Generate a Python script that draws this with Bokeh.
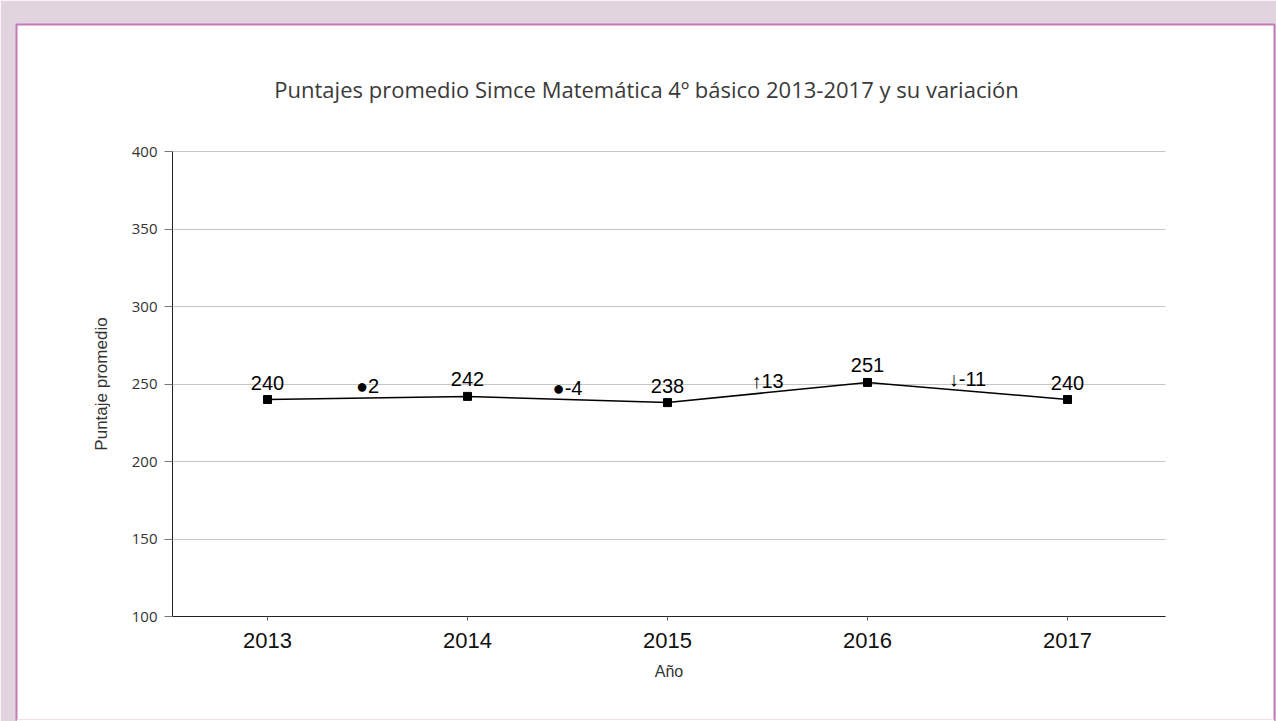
from bokeh.plotting import figure
from bokeh.models import Range1d, FixedTicker, ColumnDataSource, LinearAxis, Grid, Label, Span
from bokeh.core.properties import value
from bokeh.embed import file_html
from bokeh.resources import INLINE

# ---- data ----
years = [2013, 2014, 2015, 2016, 2017]
scores = [240, 242, 238, 251, 240]
variation = [2, -4, 13, -11]
variation_symbols = ["●", "●", "↑", "↓"]
y_ticks = [100, 150, 200, 250, 300, 350, 400]
title_text = "Puntajes promedio Simce Matemática 4º básico 2013-2017 y su variación"
y_label = "Puntaje promedio"
x_label = "Año"

# ---- style / geometry ----
MAUVE = "#e2d4de"
PINK = "#c27bb3"
W, H = 1276, 721
FL, FT, FR, FB = 16, 24, 1274, 721          # white panel (frame) in canvas px
PX_PER_YEAR = 200.0
PX_PER_POINT = 1.55
X_START = 2013 - (267 - FL) / PX_PER_YEAR
X_END = X_START + (FR - FL) / PX_PER_YEAR
Y_END = 400 + (151 - FT) / PX_PER_POINT
Y_START = Y_END - (FB - FT) / PX_PER_POINT
AX_X_LO, AX_X_HI = 2012.525, 2017.49          # extent of the drawn x axis


def px_to_x(px):
    return X_START + (px - FL) / PX_PER_YEAR


def px_to_y(py):
    return Y_END - (py - FT) / PX_PER_POINT


p = figure(width=W, height=H, output_backend="svg", toolbar_location=None,
           x_range=Range1d(X_START, X_END), y_range=Range1d(Y_START, Y_END),
           x_axis_location=None, y_axis_location=None, title=None,
           min_border_left=FL, min_border_right=W - FR, min_border_top=FT,
           min_border_bottom=H - FB)
p.border_fill_color = MAUVE
p.background_fill_color = "white"
p.outline_line_color = PINK
p.outline_line_width = 2
# drop the default grids
p.center = [r for r in p.center if not isinstance(r, Grid)]

# hide the panel's bottom edge (the panel continues below the window)
p.add_layout(Span(location=Y_START, dimension="width", line_color="white", line_width=4))

# grid lines limited to the axis extent
if "cross_bounds" in Grid.properties():
    g = Grid(dimension=1, ticker=FixedTicker(ticks=y_ticks), cross_bounds=(AX_X_LO, AX_X_HI),
             grid_line_color="#c6c6c6", grid_line_width=1)
    p.add_layout(g)
else:
    p.segment(x0=[AX_X_LO] * len(y_ticks), x1=[AX_X_HI] * len(y_ticks), y0=y_ticks, y1=y_ticks,
              line_color="#c6c6c6", line_width=1)

# y axis
yaxis = LinearAxis(fixed_location=AX_X_LO, bounds=(100, 400), ticker=FixedTicker(ticks=y_ticks))
yaxis.axis_line_color = "#222222"
yaxis.major_tick_line_color = "#777777"
yaxis.major_tick_out = 8
yaxis.major_tick_in = 0
yaxis.minor_tick_line_color = None
yaxis.major_label_standoff = 7
yaxis.major_label_text_font = "Open Sans"
yaxis.major_label_text_font_size = "15px"
yaxis.major_label_text_color = "#333333"
yaxis.axis_label = y_label
yaxis.axis_label_text_font = "Liberation Sans"
yaxis.axis_label_text_font_size = "17px"
yaxis.axis_label_text_font_style = "normal"
yaxis.axis_label_text_color = "#333333"
yaxis.axis_label_standoff = 18
p.add_layout(yaxis, "left")

# x axis
xaxis = LinearAxis(fixed_location=100, bounds=(AX_X_LO, AX_X_HI), ticker=FixedTicker(ticks=years))
xaxis.axis_line_color = "#222222"
xaxis.major_tick_line_color = "#555555"
xaxis.major_tick_out = 4
xaxis.major_tick_in = 0
xaxis.minor_tick_line_color = None
xaxis.major_label_standoff = 12
xaxis.major_label_text_font = "Liberation Sans"
xaxis.major_label_text_font_size = "22px"
xaxis.major_label_text_color = "#111111"
xaxis.axis_label = x_label
xaxis.axis_label_text_font = "Liberation Sans"
xaxis.axis_label_text_font_size = "16px"
xaxis.axis_label_text_font_style = "normal"
xaxis.axis_label_text_color = "#333333"
xaxis.axis_label_standoff = 12
p.add_layout(xaxis, "below")

# title inside the white panel
p.add_layout(Label(x=px_to_x(646), y=px_to_y(88), text=title_text, text_align="center",
                   text_baseline="middle", text_font="Open Sans", text_font_size="22px",
                   text_color="#3a3a3a"))

# series
src = ColumnDataSource(dict(x=years, y=scores, t=[str(s) for s in scores]))
p.line("x", "y", source=src, line_color="black", line_width=1.5)
p.scatter("x", "y", source=src, marker="square", size=8, color="black")
p.text("x", "y", text="t", source=src, text_align="center", text_baseline="middle",
       y_offset=-17, text_font=value("Liberation Sans"), text_font_size="20px",
       text_color="black")

# variation labels at midpoints
mid_x = [(years[i] + years[i + 1]) / 2 for i in range(len(years) - 1)]
mid_y = [(scores[i] + scores[i + 1]) / 2 for i in range(len(scores) - 1)]
var_text = [f"{s}{v}" for s, v in zip(variation_symbols, variation)]
vsrc = ColumnDataSource(dict(x=mid_x, y=mid_y, t=var_text))
p.text("x", "y", text="t", source=vsrc, text_align="center", text_baseline="middle",
       y_offset=-12, text_font=value("Liberation Sans"), text_font_size="20px",
       text_color="black")

open("out.html", "w").write(file_html(p, INLINE))
